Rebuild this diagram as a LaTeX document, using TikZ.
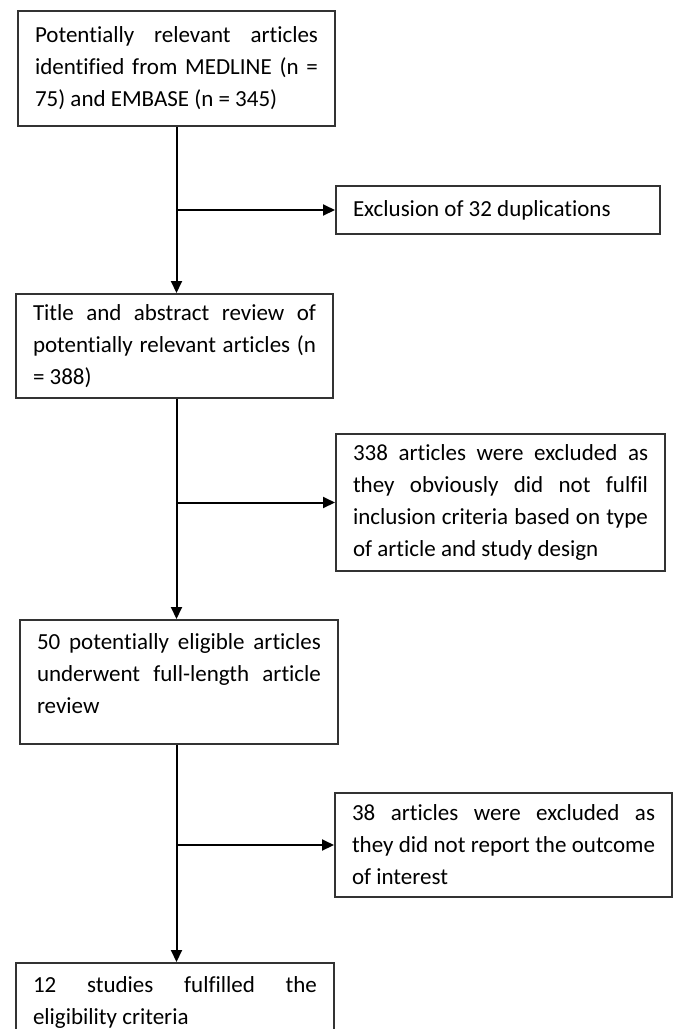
\documentclass[tikz,border=0pt]{standalone}
\usepackage{fontspec}
\usetikzlibrary{arrows.meta}
\newfontfamily\boxfont[Ligatures=NoCommon]{Carlito}

\begin{document}
\begin{tikzpicture}[x=1pt, y=-1pt]
    % --- styles ---
    \tikzstyle{box}=[draw=black!80, line width=2pt, anchor=north west, align=justify,
        inner xsep=17pt, inner ysep=0pt, text=black,
        font={\boxfont\fontsize{23}{32}\selectfont}]
    \tikzstyle{link}=[-{Triangle[length=12pt, width=11pt]}, line width=2pt, black]

    % page frame
    \useasboundingbox (0,0) rectangle (676,1029);

    % ====== main column ======
    \node[box, text width=283pt, minimum height=115pt] (search) at (17,10)
        {Potentially relevant articles\linebreak identified from MEDLINE (n =\linebreak 75) and EMBASE (n = 345)};
    \node[box, text width=283pt, minimum height=104pt] (screen) at (15,293)
        {Title and abstract review of\linebreak potentially relevant articles (n\linebreak = 388)};
    \node[box, text width=284pt, minimum height=124pt] (full) at (19,619)
        {50 potentially eligible articles\linebreak underwent full-length article\linebreak review\par\vspace*{16pt}};
    \node[box, text width=284pt, minimum height=78pt] (incl) at (15,962)
        {12 studies fulfilled the\linebreak eligibility criteria};

    % ====== exclusions ======
    \node[box, text width=290pt, minimum height=48pt] (dup) at (335,185)
        {Exclusion of 32 duplications};
    \node[box, text width=295pt, minimum height=137pt] (excl) at (335,433)
        {338 articles were excluded as\linebreak they obviously did not fulfil\linebreak inclusion criteria based on type\linebreak of article and study design};
    \node[box, text width=303pt, minimum height=104pt] (report) at (334,792)
        {38 articles were excluded as\linebreak they did not report the outcome\linebreak of interest};

    % ====== connectors ======
    \draw[link] (search.south) -- (search.south |- screen.north);
    \draw[link] (search.south |- dup.west) -- (dup.west);

    \draw[link] (search.south |- screen.south) -- (search.south |- full.north);
    \draw[link] (search.south |- excl.west) -- (excl.west);

    \draw[link] (search.south |- full.south) -- (search.south |- incl.north);
    \draw[link] (search.south |- report.west) -- (report.west);

\end{tikzpicture}
\end{document}
